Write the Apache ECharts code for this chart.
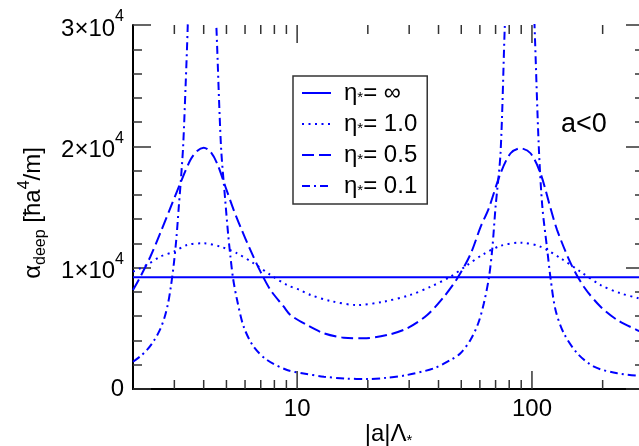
<!DOCTYPE html>
<html><head><meta charset="utf-8">
<script src="https://cdn.jsdelivr.net/npm/echarts@6/dist/echarts.min.js"></script>
<style>html,body{margin:0;padding:0;background:#fff}#c{width:639px;height:446px}</style>
</head><body><div id="c"></div>
<script>
// ---- data ----
const xTicksMajor = [10, 100];
const xTicksMinor = [3, 4, 5, 6, 7, 8, 9, 20, 30, 40, 50, 60, 70, 80, 90, 200];

const seriesNames = ['η*= ∞', 'η*= 1.0', 'η*= 0.5', 'η*= 0.1'];

const xInf = [2, 300];
const yInf = [9200, 9200];

const x10 = [2, 2.29, 2.61, 2.98, 3.40, 4.0, 4.71, 5.55, 6.53, 7.70, 9.06, 10.3, 11.4, 13.9, 18.0, 23.4, 30.3, 37.0, 45.0, 52.9, 62.0, 73.5, 89.4, 108.7, 132.5, 161, 196, 238, 285, 300];
const y10 = [9670, 10220, 10900, 11320, 11870, 12010, 11730, 11180, 10360, 9400, 8570, 8150, 7750, 7250, 6920, 7200, 7750, 8430, 9260, 10200, 11100, 11800, 12060, 11730, 10770, 9670, 8570, 7890, 7475, 7350];

const x05 = [2, 2.15, 2.37, 2.61, 2.88, 3.18, 3.51, 3.75, 4.0, 4.27, 4.56, 4.95, 5.37, 5.73, 6.32, 6.98, 7.70, 8.77, 9.36, 11.0, 13.0, 15.8, 19.2, 24.2, 29.4, 35.8, 42.2, 48.1, 54.7, 60.5, 65.5, 73.5, 81.1, 89.4, 98.6, 108.7, 120, 128, 145.9, 166.3, 196, 230.7, 280, 300];
const y05 = [8160, 9256, 10900, 12830, 14890, 16950, 18870, 19620, 19890, 19560, 18600, 16670, 14750, 13380, 11460, 9670, 8160, 6780, 6100, 5275, 4590, 4230, 4180, 4450, 5000, 6100, 7610, 9124, 11100, 13380, 14890, 17780, 19430, 19840, 19430, 17780, 14890, 13100, 10400, 8430, 6780, 5690, 4860, 4600];

const x01 = [2, 2.15, 2.30, 2.45, 2.60, 2.72, 2.82, 2.90, 2.98, 3.06, 3.13, 3.20, 3.27, 3.35, 3.42, 3.6, 3.9, 4.2, 4.53, 4.74, 4.94, 5.08, 5.20, 5.34, 5.55, 5.92, 6.53, 7.45, 9.06, 10.5, 13.0, 16.0, 19.9, 24.0, 29.4, 38.2, 45.0, 49.6, 54.7, 59, 62.4, 65.5, 67.7, 70.0, 73.5, 76.6, 82, 89, 96, 102.6, 106.9, 110.7, 116.2, 120, 126, 136.7, 156, 183.7, 230.9, 300];
const y01 = [2250, 2700, 3250, 3950, 4850, 5850, 7050, 8450, 10200, 12400, 14900, 17300, 20000, 25000, 29860, 45000, 80000, 45000, 29860, 20000, 15577, 12830, 10900, 9070, 7335, 5134, 3486, 2390, 1566, 1300, 1014, 860, 824, 920, 1154, 1706, 2390, 2942, 4038, 5400, 7063, 9124, 11456, 15024, 19500, 29860, 45000, 80000, 45000, 29860, 20000, 15024, 11456, 9124, 6511, 4590, 2942, 1838, 1294, 1050];

// ---- chart ----
const FONT = 'Liberation Sans, Arial, sans-serif';
const BLUE = '#0000ff';
const zip = (xs, ys) => xs.map((x, i) => [x, ys[i]]);

const chart = echarts.init(document.getElementById('c'), null, {renderer: 'canvas'});

const lineSeries = (name, xs, ys, dash) => ({
  name, type: 'line', data: zip(xs, ys), xAxisIndex: 0, yAxisIndex: 0,
  symbol: 'none', showSymbol: false, smooth: 0.3, clip: true,
  lineStyle: {color: BLUE, width: 2, type: dash}, itemStyle: {color: BLUE}, z: 3
});

const tickData = xTicksMajor.map(v => [v, 1]).concat(xTicksMinor.map(v => [v, 0]));

const legendFmt = name => '{e|η}{s|*}{e|' + name.slice(2) + '}';

const option = {
  animation: false,
  backgroundColor: '#fff',
  grid: {left: 133, top: 25, width: 511, height: 364, show: false, outerBoundsMode: 'none', containLabel: false},
  xAxis: [{
    type: 'log', min: 2, max: 300, position: 'bottom',
    axisLine: {show: true, lineStyle: {color: '#000', width: 2}},
    axisTick: {show: false}, splitLine: {show: false}, minorTick: {show: false},
    axisLabel: {
      fontSize: 24, fontFamily: FONT, color: '#000', margin: 8,
      showMinLabel: false, showMaxLabel: false,
      formatter: v => (Math.abs(v - 10) < 1e-6 || Math.abs(v - 100) < 1e-6) ? String(Math.round(v)) : ''
    },
    name: '{e||a|Λ}{s|*}', nameLocation: 'middle', nameGap: 31, nameMoveOverlap: false,
    nameTextStyle: {rich: {
      e: {fontSize: 24, lineHeight: 28, fontFamily: FONT, color: '#000'},
      s: {fontSize: 15, fontFamily: FONT, color: '#000', verticalAlign: 'bottom'}
    }}
  }, {
    type: 'log', min: 2, max: 300, position: 'top',
    axisLine: {show: true, lineStyle: {color: '#000', width: 1.5}},
    axisTick: {show: false}, axisLabel: {show: false}, splitLine: {show: false}
  }],
  yAxis: [{
    type: 'value', min: 0, max: 30000, interval: 10000, position: 'left',
    axisLine: {show: true, lineStyle: {color: '#000', width: 2}},
    axisTick: {show: true, inside: true, length: 18, lineStyle: {color: '#333', width: 1.5}},
    minorTick: {show: true, splitNumber: 5, length: 9, lineStyle: {color: '#333', width: 1.5}},
    splitLine: {show: false},
    axisLabel: {
      margin: 9, color: '#000',
      formatter: v => v === 0 ? '{z|0}' : '{b|' + (v / 10000) + '×10}{p|4}',
      rich: {
        z: {fontSize: 24, fontFamily: FONT, color: '#000'},
        b: {fontSize: 24, fontFamily: FONT, color: '#000', lineHeight: 32, verticalAlign: 'bottom'},
        p: {fontSize: 16, fontFamily: FONT, color: '#000', verticalAlign: 'top'}
      }
    }
  }, {
    type: 'value', min: 0, max: 30000, interval: 10000, position: 'right',
    axisLine: {show: true, lineStyle: {color: '#000', width: 1.5}},
    axisTick: {show: true, inside: true, length: 18, lineStyle: {color: '#333', width: 1.5}},
    minorTick: {show: true, splitNumber: 5, length: 9, lineStyle: {color: '#333', width: 1.5}},
    splitLine: {show: false}, axisLabel: {show: false}
  }],
  legend: {
    data: seriesNames, orient: 'vertical', left: 293, top: 76,
    itemWidth: 29, itemHeight: 14, itemGap: 7,
    padding: [5, 10, 6, 8],
    borderColor: '#333', borderWidth: 1.5, backgroundColor: '#fff',
    itemStyle: {color: 'rgba(0,0,0,0)', borderWidth: 0, opacity: 0},
    formatter: legendFmt,
    textStyle: {rich: {
      e: {fontSize: 24, fontFamily: FONT, color: '#000'},
      s: {fontSize: 15, fontFamily: FONT, color: '#000', verticalAlign: 'bottom'}
    }, padding: [0, 0, 0, 8]},
    selectedMode: false
  },
  graphic: [{
    type: 'text', x: 33, y: 213, rotation: Math.PI / 2,
    style: {
      text: '{a|α}{s|deep}{a| [ħa}{p|4}{a|/m]}',
      align: 'center', verticalAlign: 'middle', fill: '#000',
      rich: {
        a: {fontSize: 24, lineHeight: 32, fontFamily: FONT, fill: '#000'},
        s: {fontSize: 16, fontFamily: FONT, fill: '#000', verticalAlign: 'bottom'},
        p: {fontSize: 16, fontFamily: FONT, fill: '#000', verticalAlign: 'top'}
      }
    }
  }, {
    type: 'text', left: 561, top: 111,
    style: {text: 'a<0', fontSize: 27, fontFamily: FONT, fill: '#000'}
  }],
  series: [
    lineSeries(seriesNames[0], xInf, yInf, 'solid'),
    lineSeries(seriesNames[1], x10, y10, [2, 4.5]),
    lineSeries(seriesNames[2], x05, y05, [12, 5]),
    lineSeries(seriesNames[3], x01, y01, [8, 4, 2, 4]),
    {
      type: 'custom', xAxisIndex: 0, yAxisIndex: 0, data: tickData, silent: true, z: 5,
      encode: {x: 0, y: 1},
      renderItem: (params, api) => {
        const v = api.value(0);
        const len = api.value(1) ? 18 : 9;
        const b = api.coord([v, 0]);
        const t = api.coord([v, 30000]);
        const st = {stroke: '#333', lineWidth: 1.5};
        return {type: 'group', children: [
          {type: 'line', shape: {x1: b[0], y1: b[1], x2: b[0], y2: b[1] - len}, style: st},
          {type: 'line', shape: {x1: t[0], y1: t[1], x2: t[0], y2: t[1] + len}, style: st}
        ]};
      }
    }
  ]
};
chart.setOption(option);
</script>
</body></html>
